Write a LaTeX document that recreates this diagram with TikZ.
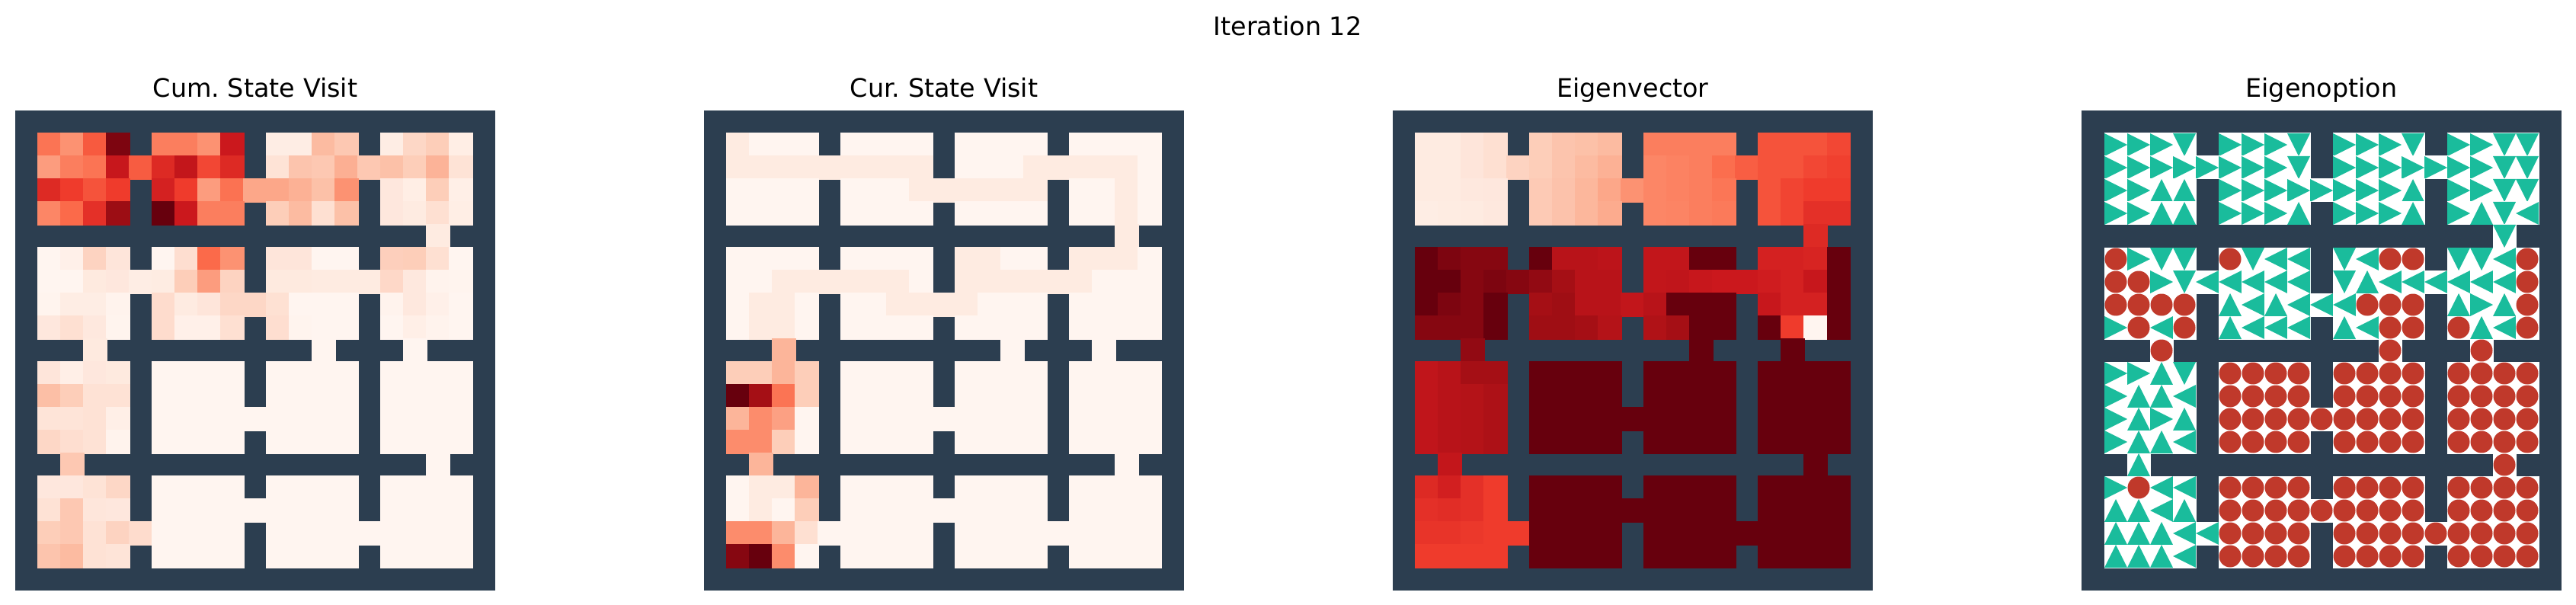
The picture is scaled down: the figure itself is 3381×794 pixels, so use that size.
\documentclass[tikz,border=0pt]{standalone}
\usepackage{fontspec}
\setmainfont{DejaVu Sans}
\frenchspacing

% cell values on a 0..16 scale (half steps of the Reds stops), -1 is a wall
\def\cumvisit{%
{7.5,6,8.7,15.3,-1,7,7,6,12,-1,0.8,0.8,4,3.3,-1,0.8,2.5,3,0.7},%
{5.5,7,7.5,12.2,8.6,11,12.4,9.5,11,-1,1.7,3.5,3.3,4.6,3.3,3.7,3,4.4,1.7},%
{11,10,9,10,-1,11.5,10,5.5,7.6,5,5,4.5,3.7,6,-1,1.3,0.7,3,0.6},%
{6.6,8,10.6,14.3,-1,16,12,7,7,-1,3,4,2,3.7,-1,1.3,1,2,0.7},%
{-1,-1,-1,-1,-1,-1,-1,-1,-1,-1,-1,-1,-1,-1,-1,-1,-1,1,-1},%
{0,0.5,2.7,1.5,-1,0,2.1,8,6,-1,1.5,1.5,0,0,-1,2.9,3,2,0},%
{0,0,1.1,1.3,0.8,0.9,3,5.5,2.7,-1,1.1,1.1,1,1,1,2.4,1.2,0.2,0.1},%
{0.1,0.8,0.8,0.2,-1,2.2,1,1.5,2.5,2.5,1.9,0,0,0,-1,0.2,1.2,0.5,0},%
{1.3,2,1.2,0.1,-1,2.2,0.5,0.5,2,-1,2.1,0.1,0,0,-1,0,0.6,0.2,0},%
{-1,-1,1.1,-1,-1,-1,-1,-1,-1,-1,-1,-1,0,-1,-1,-1,0,-1,-1},%
{1.5,0.6,1.3,1.1,-1,0,0,0,0,-1,0,0,0,0,-1,0,0,0,0},%
{3.8,3,1.8,1.8,-1,0,0,0,0,-1,0,0,0,0,-1,0,0,0,0},%
{1.6,1.6,1.8,0.6,-1,0,0,0,0,0,0,0,0,0,-1,0,0,0,0},%
{2.5,2.1,1.8,0.2,-1,0,0,0,0,-1,0,0,0,0,-1,0,0,0,0},%
{-1,3.3,-1,-1,-1,-1,-1,-1,-1,-1,-1,-1,-1,-1,-1,-1,-1,0,-1},%
{1.3,1.3,1.7,2.5,-1,0,0,0,0,-1,0,0,0,0,-1,0,0,0,0},%
{1.8,3.3,1.4,1.3,-1,0,0,0,0,0,0,0,0,0,-1,0,0,0,0},%
{3,3.3,1.8,2.7,2.2,0,0,0,0,-1,0,0,0,0,0,0,0,0,0},%
{3.5,4,1.8,1.6,-1,0,0,0,0,-1,0,0,0,0,-1,0,0,0,0}}

\def\curvisit{%
{1,0,0,0,-1,0,0,0,0,-1,0,0,0,0,-1,0,0,0,0},%
{1,1,1,1,1,1,1,1,1,-1,0,0,0,1,1,1,1,1,0},%
{0,0,0,0,-1,0,0,0,1,1,1,1,1,1,-1,0,0,1,0},%
{0,0,0,0,-1,0,0,0,0,-1,0,0,0,0,-1,0,0,1,0},%
{-1,-1,-1,-1,-1,-1,-1,-1,-1,-1,-1,-1,-1,-1,-1,-1,-1,1,-1},%
{0,0,0,0,-1,0,0,0,0,-1,1,1,0,0,-1,1,1,1,0},%
{0,0,1,1,1,1,1,1,0,-1,1,1,1,1,1,1,0,0,0},%
{0,1,1,0,-1,0,0,1,1,1,1,0,0,0,-1,0,0,0,0},%
{0,1,1,0,-1,0,0,0,0,-1,0,0,0,0,-1,0,0,0,0},%
{-1,-1,4.3,-1,-1,-1,-1,-1,-1,-1,-1,-1,0,-1,-1,-1,0,-1,-1},%
{3,3,4.3,3,-1,0,0,0,0,-1,0,0,0,0,-1,0,0,0,0},%
{16,14,7.5,3,-1,0,0,0,0,-1,0,0,0,0,-1,0,0,0,0},%
{4.3,6.3,5.3,0,-1,0,0,0,0,0,0,0,0,0,-1,0,0,0,0},%
{6.3,6.3,3,0,-1,0,0,0,0,-1,0,0,0,0,-1,0,0,0,0},%
{-1,4.3,-1,-1,-1,-1,-1,-1,-1,-1,-1,-1,-1,-1,-1,-1,-1,0,-1},%
{0,1,1,4.3,-1,0,0,0,0,-1,0,0,0,0,-1,0,0,0,0},%
{0,1,0,3,-1,0,0,0,0,0,0,0,0,0,-1,0,0,0,0},%
{6.3,6.3,4.3,2,0,0,0,0,0,-1,0,0,0,0,0,0,0,0,0},%
{15,16,6.3,0,-1,0,0,0,0,-1,0,0,0,0,-1,0,0,0,0}}

\def\eigvec{%
{1,1,1.5,2,-1,3,3.5,3.7,4,-1,7,7,7,7,-1,9,9,9,9.5},%
{1,1,1.5,2,2.7,3,3.5,4,4.5,-1,6.6,6.8,7,7.8,8.5,9,9,9.5,9.8},%
{1,1,1.2,1.3,-1,3.2,3.6,4.2,5,6,6.6,6.8,7,7.4,-1,9,9.6,10,10},%
{0.8,0.9,1,1.2,-1,3.2,3.6,4.2,4.8,-1,6.6,6.7,7,7.2,-1,9,9.6,10.6,10.6},%
{-1,-1,-1,-1,-1,-1,-1,-1,-1,-1,-1,-1,-1,-1,-1,-1,-1,11,-1},%
{16,15.3,15,15,-1,16,13,13,12.8,-1,12.5,12.5,16,16,-1,11.5,11.5,11.3,16},%
{16,16,15,15.3,15,14.6,14,13,13,-1,12.5,12.6,12.2,12,12,11.8,11.5,12.2,16},%
{16,15.3,15,16,-1,14,14.2,13,13,12.5,13,16,16,16,-1,12.2,11.5,11.5,16},%
{15,15,15,16,-1,14.2,14.2,14,13.2,-1,13.4,14,16,16,-1,16,10,0,16},%
{-1,-1,14.6,-1,-1,-1,-1,-1,-1,-1,-1,-1,16,-1,-1,-1,16,-1,-1},%
{12.6,13,14,14,-1,16,16,16,16,-1,16,16,16,16,-1,16,16,16,16},%
{12.6,13,13.2,13.6,-1,16,16,16,16,-1,16,16,16,16,-1,16,16,16,16},%
{12.6,13,13.2,13.6,-1,16,16,16,16,16,16,16,16,16,-1,16,16,16,16},%
{12.6,13,13.2,13.6,-1,16,16,16,16,-1,16,16,16,16,-1,16,16,16,16},%
{-1,12.4,-1,-1,-1,-1,-1,-1,-1,-1,-1,-1,-1,-1,-1,-1,-1,16,-1},%
{11,11.6,10.6,10,-1,16,16,16,16,-1,16,16,16,16,-1,16,16,16,16},%
{10.6,10.8,10.6,10,-1,16,16,16,16,16,16,16,16,16,-1,16,16,16,16},%
{10.4,10.4,10.2,10,10,16,16,16,16,-1,16,16,16,16,16,16,16,16,16},%
{10,10,10,10,-1,16,16,16,16,-1,16,16,16,16,-1,16,16,16,16}}

% option: R L U D arrows, O stop, x wall
\def\optdirs{%
{R,R,R,D,x,R,R,R,D,x,R,R,R,D,x,R,R,D,D},%
{R,R,R,R,R,R,R,R,D,x,R,R,R,R,R,R,R,D,D},%
{R,R,U,U,x,R,R,R,R,R,R,R,R,U,x,R,R,D,D},%
{R,R,U,U,x,R,R,R,U,x,R,R,R,U,x,R,U,D,L},%
{x,x,x,x,x,x,x,x,x,x,x,x,x,x,x,x,x,D,x},%
{O,R,D,D,x,O,D,L,L,x,D,L,O,O,x,D,D,L,O},%
{O,O,R,D,L,L,L,L,L,x,D,U,L,L,L,L,L,L,O},%
{O,O,O,O,x,U,L,U,L,L,L,O,O,O,x,U,R,U,O},%
{R,O,L,O,x,U,L,L,L,x,U,L,O,O,x,O,U,L,O},%
{x,x,O,x,x,x,x,x,x,x,x,x,O,x,x,x,O,x,x},%
{R,R,U,D,x,O,O,O,O,x,O,O,O,O,x,O,O,O,O},%
{R,U,U,L,x,O,O,O,O,x,O,O,O,O,x,O,O,O,O},%
{R,U,R,U,x,O,O,O,O,O,O,O,O,O,x,O,O,O,O},%
{R,U,U,L,x,O,O,O,O,x,O,O,O,O,x,O,O,O,O},%
{x,U,x,x,x,x,x,x,x,x,x,x,x,x,x,x,x,O,x},%
{R,O,L,L,x,O,O,O,O,x,O,O,O,O,x,O,O,O,O},%
{U,U,L,U,x,O,O,O,O,O,O,O,O,O,x,O,O,O,O},%
{U,U,U,L,L,O,O,O,O,x,O,O,O,O,O,O,O,O,O},%
{U,U,U,L,x,O,O,O,O,x,O,O,O,O,x,O,O,O,O}}

\tikzset{
  paneltitle/.style={anchor=base, font=\fontsize{9.5}{11.5}\selectfont},
  optR/.pic={\fill[white] (-0.5,-0.5) rectangle (\cellw+0.5,\cellw+0.5);
    \fill[arrowcol] (0,0) -- (\cellw,\cellw/2) -- (0,\cellw) -- cycle;},
  optL/.pic={\fill[white] (-0.5,-0.5) rectangle (\cellw+0.5,\cellw+0.5);
    \fill[arrowcol] (\cellw,0) -- (0,\cellw/2) -- (\cellw,\cellw) -- cycle;},
  optU/.pic={\fill[white] (-0.5,-0.5) rectangle (\cellw+0.5,\cellw+0.5);
    \fill[arrowcol] (0,\cellw) -- (\cellw/2,0) -- (\cellw,\cellw) -- cycle;},
  optD/.pic={\fill[white] (-0.5,-0.5) rectangle (\cellw+0.5,\cellw+0.5);
    \fill[arrowcol] (0,0) -- (\cellw,0) -- (\cellw/2,\cellw) -- cycle;},
  optO/.pic={\fill[white] (-0.5,-0.5) rectangle (\cellw+0.5,\cellw+0.5);
    \fill[stopcol] (\cellw/2,\cellw/2) circle [radius=14.5];},
  optx/.pic={}
}

\begin{document}
\begin{tikzpicture}[x=0.01cm, y=-0.01cm]
  \definecolor{wallcol}{RGB}{44,62,80}
  \definecolor{arrowcol}{RGB}{26,188,156}
  \definecolor{stopcol}{RGB}{192,57,43}
  \definecolor{reds0}{RGB}{255,245,240}
  \definecolor{reds1}{RGB}{254,224,210}
  \definecolor{reds2}{RGB}{252,187,161}
  \definecolor{reds3}{RGB}{252,146,114}
  \definecolor{reds4}{RGB}{251,106,74}
  \definecolor{reds5}{RGB}{239,59,44}
  \definecolor{reds6}{RGB}{203,24,29}
  \definecolor{reds7}{RGB}{165,15,21}
  \definecolor{reds8}{RGB}{103,0,13}
  \def\cellw{30}
  \def\gridtop{145}
  \useasboundingbox (0,0) rectangle (3381,794);
  \fill[white] (0,0) rectangle (3381,794);
  \node[paneltitle] (suptitle) at (1690,47) {Iteration 12};

  % #1 left edge, #2 name, #3 title, #4 data
  \def\drawheat#1#2#3#4{%
    \fill[wallcol] (#1,\gridtop) rectangle ++(21*\cellw,21*\cellw);
    \node[paneltitle] (#2title) at (#1+315,128) {#3};
    \foreach \rowvals [count=\r] in #4 {
      \foreach \v [count=\c] in \rowvals {
        \ifdim\v pt<0pt\else
          \pgfmathsetmacro\lvl{\v/2}
          \pgfmathtruncatemacro\klow{\lvl}
          \pgfmathtruncatemacro\khigh{min(\klow+1,8)}
          \pgfmathtruncatemacro\mixpc{round((\lvl-\klow)*100)}
          \colorlet{cellcol}{reds\khigh!\mixpc!reds\klow}
          \filldraw[cellcol, line width=0.3pt] (#1+\c*\cellw,\gridtop+\r*\cellw) rectangle ++(\cellw,\cellw);
        \fi
      }
    }
  }
  \drawheat{20}{cum}{Cum. State Visit}{\cumvisit}
  \drawheat{924}{cur}{Cur. State Visit}{\curvisit}
  \drawheat{1828}{eig}{Eigenvector}{\eigvec}

  % eigenoption panel
  \fill[wallcol] (2732,\gridtop) rectangle ++(21*\cellw,21*\cellw);
  \node[paneltitle] (opttitle) at (3047,128) {Eigenoption};
  \foreach \rowvals [count=\r] in \optdirs {
    \foreach \s [count=\c] in \rowvals {
      \pic at (2732+\c*\cellw,\gridtop+\r*\cellw) {opt\s};
    }
  }
\end{tikzpicture}
\end{document}
